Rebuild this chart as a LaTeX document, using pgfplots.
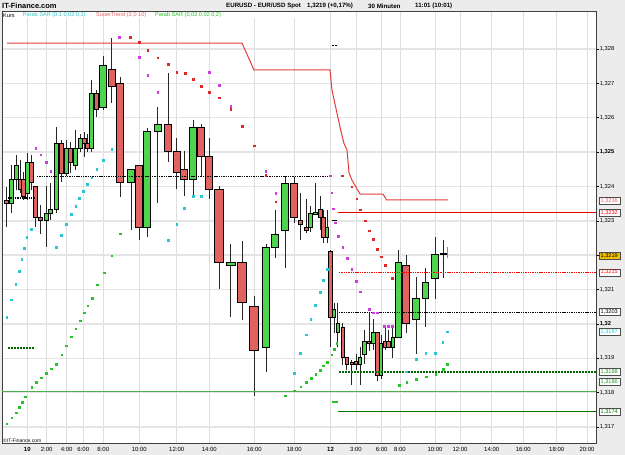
\documentclass[border=0pt]{standalone}
\usepackage{pgfplots}
\pgfplotsset{compat=1.18}
\usepackage{fontspec}
\setmainfont{Liberation Sans}
\definecolor{cgreen}{RGB}{78,212,78}
\definecolor{cred}{RGB}{226,98,98}
\definecolor{sarcyan}{RGB}{40,200,210}
\definecolor{sarmag}{RGB}{205,60,220}
\definecolor{sarred}{RGB}{222,40,40}
\definecolor{sargreen}{RGB}{40,195,40}
\definecolor{stred}{RGB}{226,60,60}
\definecolor{bggray}{RGB}{236,236,236}
\definecolor{gold}{RGB}{240,192,0}
\newcommand{\cdl}[7]{% fill, x, high, body top, body bottom, low, half width
  \pgfmathsetmacro\xl{#2-#7}\pgfmathsetmacro\xr{#2+#7}%
  \addplot[black!85, line width=0.8bp, forget plot] coordinates {(#2,#3) (#2,#6)};
  \edef\doplot{\noexpand\addplot[draw=black, fill=#1, line width=0.7bp, forget plot] coordinates {(\xl,#4) (\xr,#4) (\xr,#5) (\xl,#5)} -- cycle;}\doplot
}
\begin{document}
\begin{tikzpicture}
\useasboundingbox (0,0) rectangle (625bp,455bp);
\fill[bggray] (0,0) rectangle (625bp,455bp);
\begin{axis}[
  at={(2bp,12bp)}, anchor=south west,
  scale only axis, width=594bp, height=431bp,
  xmin=2, xmax=596, ymin=1.316534, ymax=1.329077,
  clip=false,
  axis background/.style={fill=white},
  axis line style={black!75, line width=1bp},
  xtick={46.7,66.7,83.3,103.3,139.3,176.7,209.3,254.3,294.3,356,381.7,400,435,460,491.7,523.3,556.7,587},
  xticklabels={2:00,4:00,6:00,8:00,10:00,12:00,14:00,16:00,18:00,3:00,6:00,8:00,10:00,12:00,14:00,16:00,18:00,20:00},
  extra x ticks={27.3,330.5},
  extra x tick labels={\textbf{10},\textbf{12}},
  extra x tick style={grid=major, major grid style={black!35, line width=1bp}},
  ytick={1.317,1.318,1.319,1.32,1.321,1.322,1.323,1.324,1.325,1.326,1.327,1.328},
  yticklabels={{1,317},{1,318},{1,319},{\bfseries 1,32},{1,321},{},{1,323},{1,324},{\bfseries 1,325},{1,326},{1,327},{1,328}},
  ytick pos=right, yticklabel pos=right,
  tick align=outside,
  x tick style={draw=none},
  y tick style={black, line width=0.6bp},
  major tick length=3bp,
  xmajorgrids, ymajorgrids,
  x grid style={black!13, line width=0.8bp},
  y grid style={black!10, line width=1.4bp},
  xticklabel style={font=\fontsize{6}{7}\selectfont, inner sep=1bp, yshift=-0.5bp},
  yticklabel style={font=\fontsize{5.8}{6.5}\selectfont, inner sep=0.6bp, anchor=west},
]
% candles
\cdl{cred}{6.7}{1.32398}{1.32361}{1.32352}{1.32282}{1.9}
\cdl{cgreen}{11}{1.32462}{1.32422}{1.32352}{1.32323}{1.9}
\cdl{cgreen}{16}{1.32492}{1.32460}{1.32422}{1.32390}{1.9}
\cdl{cred}{20}{1.32477}{1.32422}{1.32393}{1.32381}{1.9}
\cdl{cred}{23.5}{1.32442}{1.32422}{1.32372}{1.32361}{1.9}
\cdl{cgreen}{27.7}{1.32497}{1.32471}{1.32381}{1.32361}{1.9}
\cdl{cred}{31}{1.32492}{1.32471}{1.32413}{1.32390}{1.9}
\cdl{cred}{35.7}{1.32401}{1.32401}{1.32311}{1.32282}{1.9}
\cdl{cred}{40.7}{1.32346}{1.32311}{1.32300}{1.32262}{1.9}
\cdl{cgreen}{46}{1.32401}{1.32323}{1.32300}{1.32224}{1.9}
\cdl{cgreen}{50.7}{1.32410}{1.32332}{1.32323}{1.32302}{1.9}
\cdl{cgreen}{56}{1.32573}{1.32524}{1.32332}{1.32323}{1.9}
\cdl{cred}{61}{1.32535}{1.32524}{1.32439}{1.32413}{1.9}
\cdl{cgreen}{66}{1.32535}{1.32512}{1.32439}{1.32430}{1.9}
\cdl{cred}{70}{1.32529}{1.32512}{1.32471}{1.32439}{1.9}
\cdl{cgreen}{75}{1.32564}{1.32512}{1.32460}{1.32448}{1.9}
\cdl{cgreen}{80}{1.32553}{1.32541}{1.32512}{1.32500}{1.9}
\cdl{cred}{84}{1.32559}{1.32541}{1.32524}{1.32486}{1.9}
\cdl{cred}{87.7}{1.32553}{1.32524}{1.32512}{1.32500}{1.9}
\cdl{cgreen}{91.7}{1.32710}{1.32672}{1.32512}{1.32500}{1.9}
\cdl{cred}{96.7}{1.32681}{1.32672}{1.32623}{1.32602}{1.9}
\cdl{cgreen}{103}{1.32780}{1.32751}{1.32631}{1.32623}{3.3}
\cdl{cred}{111.7}{1.32832}{1.32742}{1.32692}{1.32643}{3.3}
\cdl{cred}{120}{1.32719}{1.32701}{1.32413}{1.32369}{3.5}
\cdl{cgreen}{131}{1.32451}{1.32451}{1.32413}{1.32273}{3.5}
\cdl{cred}{139}{1.32460}{1.32460}{1.32282}{1.32244}{3.5}
\cdl{cgreen}{147}{1.32570}{1.32561}{1.32282}{1.32253}{3.5}
\cdl{cgreen}{157.7}{1.32631}{1.32582}{1.32561}{1.32352}{3.5}
\cdl{cred}{168}{1.32730}{1.32582}{1.32503}{1.32471}{3.5}
\cdl{cred}{176.7}{1.32541}{1.32503}{1.32442}{1.32393}{3.5}
\cdl{cred}{184}{1.32503}{1.32451}{1.32422}{1.32372}{3.5}
\cdl{cgreen}{193}{1.32593}{1.32573}{1.32422}{1.32372}{3.5}
\cdl{cred}{201}{1.32582}{1.32573}{1.32489}{1.32430}{3.5}
\cdl{cred}{209}{1.32541}{1.32489}{1.32393}{1.32364}{3.5}
\cdl{cred}{219}{1.32401}{1.32393}{1.32180}{1.32102}{4.3}
\cdl{cgreen}{230.7}{1.32233}{1.32180}{1.32171}{1.32020}{4.3}
\cdl{cred}{242}{1.32241}{1.32180}{1.32064}{1.32011}{4.3}
\cdl{cred}{254}{1.32081}{1.32052}{1.31924}{1.31790}{4.3}
\cdl{cgreen}{266}{1.32233}{1.32224}{1.31933}{1.31860}{3.8}
\cdl{cgreen}{275}{1.32332}{1.32262}{1.32224}{1.32192}{3.5}
\cdl{cgreen}{285}{1.32428}{1.32410}{1.32273}{1.32163}{3.5}
\cdl{cred}{294}{1.32428}{1.32410}{1.32311}{1.32294}{3.5}
\cdl{cred}{300}{1.32381}{1.32300}{1.32291}{1.32244}{2.1}
\cdl{cred}{306}{1.32364}{1.32282}{1.32273}{1.32265}{2.1}
\cdl{cgreen}{310.7}{1.32343}{1.32323}{1.32282}{1.32267}{2.1}
\cdl{cgreen}{315}{1.32410}{1.32326}{1.32320}{1.32317}{2.1}
\cdl{cred}{320}{1.32372}{1.32332}{1.32311}{1.32273}{2.1}
\cdl{cred}{323.3}{1.32332}{1.32311}{1.32253}{1.32235}{1.8}
\cdl{cgreen}{327}{1.32332}{1.32282}{1.32253}{1.32235}{1.8}
\cdl{cred}{330.5}{1.32215}{1.32212}{1.32020}{1.31933}{1.8}
\cdl{cgreen}{334}{1.32061}{1.32043}{1.32020}{1.31974}{1.8}
\cdl{cgreen}{337.7}{1.32061}{1.32003}{1.31974}{1.31933}{1.8}
\cdl{cred}{342.7}{1.32003}{1.31991}{1.31904}{1.31880}{1.8}
\cdl{cred}{346.7}{1.31904}{1.31904}{1.31883}{1.31866}{1.8}
\cdl{cred}{351.7}{1.31895}{1.31889}{1.31883}{1.31822}{1.8}
\cdl{cred}{356}{1.31912}{1.31892}{1.31883}{1.31866}{1.8}
\cdl{cgreen}{360}{1.31933}{1.31904}{1.31883}{1.31822}{1.8}
\cdl{cgreen}{364.3}{1.31982}{1.31950}{1.31912}{1.31883}{1.8}
\cdl{cred}{369}{1.32032}{1.31950}{1.31944}{1.31921}{1.8}
\cdl{cgreen}{373.3}{1.32014}{1.31974}{1.31944}{1.31924}{1.8}
\cdl{cred}{377.3}{1.31974}{1.31974}{1.31851}{1.31834}{1.8}
\cdl{cgreen}{381}{1.31968}{1.31944}{1.31851}{1.31840}{1.8}
\cdl{cred}{385}{1.31991}{1.31950}{1.31933}{1.31924}{1.8}
\cdl{cred}{388.3}{1.31982}{1.31950}{1.31933}{1.31930}{1.8}
\cdl{cgreen}{392.7}{1.31991}{1.31962}{1.31933}{1.31901}{1.8}
\cdl{cgreen}{398.3}{1.32215}{1.32180}{1.31962}{1.31962}{3.4}
\cdl{cred}{406}{1.32201}{1.32171}{1.32003}{1.31974}{3.4}
\cdl{cgreen}{416}{1.32137}{1.32073}{1.32014}{1.31912}{3.4}
\cdl{cgreen}{425.3}{1.32163}{1.32122}{1.32073}{1.31991}{3.4}
\cdl{cgreen}{435}{1.32253}{1.32203}{1.32134}{1.32073}{3.4}
\cdl{black}{443.3}{1.32244}{1.32204}{1.32202}{1.32134}{3.4}
\addplot[cred, line width=0.9bp, forget plot] coordinates {(447.7,1.32224) (447.7,1.32192)};
% SuperTrend
\addplot[stred, line width=1bp] coordinates {(7,1.32817)(242,1.32817)(254,1.32739)(330,1.32739)(332,1.32680)(335,1.32640)(338,1.32600)(341,1.32560)(344,1.32525)(347,1.32506)(349,1.32440)(352,1.32418)(356,1.32398)(360,1.32378)(383,1.32378)(386.5,1.32361)(448,1.32361)};
% horizontal levels
\addplot[red!90!black, line width=1bp] coordinates {(338,1.32323)(596,1.32323)};
\addplot[red, line width=1.4bp, dash pattern=on 1.4bp off 0.9bp] coordinates {(339,1.32149)(596,1.32149)};
\addplot[black, line width=1.3bp, dash pattern=on 1.4bp off 0.9bp] coordinates {(339,1.32034)(596,1.32034)};
\addplot[black!60!green, line width=1.1bp, dash pattern=on 2bp off 1bp] coordinates {(339,1.31860)(596,1.31860)};
\addplot[green!55!black!70, line width=1.3bp] coordinates {(2,1.31803)(596,1.31803)};
\addplot[green!45!black, line width=1.1bp] coordinates {(338,1.31745)(596,1.31745)};
\addplot[black, line width=1.3bp, dash pattern=on 1.4bp off 0.9bp] coordinates {(37,1.32428)(330,1.32428)};
\addplot[black, line width=1.3bp, dash pattern=on 1.4bp off 0.9bp] coordinates {(8,1.32366)(35,1.32366)};
\addplot[black!60!green, line width=1.1bp, dash pattern=on 2bp off 1bp] coordinates {(8,1.31930)(35,1.31930)};
\addplot[black, line width=0.9bp] coordinates {(331.5,1.32300)(336.5,1.32300)};
\addplot[black, line width=0.9bp, dash pattern=on 2bp off 1bp] coordinates {(332,1.32809)(338,1.32809)};
% Parabolic SAR (0,1 0,02 0,1)
\addplot[only marks, mark=square*, mark size=0.8bp, color=sarcyan] coordinates {(6.7,1.32020)(11,1.32070)(15.7,1.32116)(19,1.32154)(21.7,1.32189)(24.3,1.32221)(26.7,1.32253)(31,1.32276)(56,1.32224)(61,1.32259)(66,1.32291)(71,1.32320)(75.7,1.32343)(79.3,1.32366)(83.3,1.32387)(87.3,1.32407)(91.7,1.32425)(96.7,1.32451)(103,1.32477)(111.7,1.32509)(168.3,1.32244)(176.7,1.32291)(184.3,1.32337)(193.3,1.32372)(201,1.32372)(294,1.31857)(300,1.31915)(306,1.31968)(310.7,1.32014)(315,1.32055)(320,1.32093)(323,1.32128)(327.3,1.32160)(406,1.31861)(416,1.31897)(425.5,1.31915)(435,1.31915)(442.7,1.31946)(447,1.31977)};
\addplot[only marks, mark=square*, mark size=0.8bp, color=sarmag] coordinates {(35.7,1.32512)(40.7,1.32492)(46,1.32471)(50.7,1.32445)(119.3,1.32835)(139,1.32777)(147.5,1.32724)(157.7,1.32675)(209,1.32733)(219.3,1.32695)(230.7,1.32634)(265.7,1.32445)(275.7,1.32381)(330,1.32431)(331.7,1.32382)(333.3,1.32335)(335,1.32295)(338.3,1.32256)(342.7,1.32223)(347.3,1.32191)(351.7,1.32159)(356,1.32125)(360,1.32094)(369,1.32043)(373.3,1.32033)(377.3,1.32033)(384,1.31994)(388.3,1.31994)(392.3,1.31994)};
% Parabolic SAR (0,02 0,02 0,2)
\addplot[only marks, mark=square*, mark size=0.8bp, color=sarred] coordinates {(130,1.32834)(139,1.32820)(147.7,1.32797)(157.7,1.32775)(168.3,1.32755)(176.7,1.32732)(185,1.32730)(193.3,1.32712)(201,1.32692)(209,1.32674)(219.3,1.32658)(230.7,1.32625)(242.3,1.32576)(254,1.32519)(265.7,1.32433)(275.7,1.32356)(342.3,1.32431)(351.7,1.32399)(356.7,1.32364)(360,1.32332)(365,1.32300)(369.3,1.32271)(373.3,1.32246)(377.3,1.32218)(381,1.32196)(385,1.32171)(392.3,1.32133)};
\addplot[only marks, mark=square*, mark size=0.8bp, color=sargreen] coordinates {(6.7,1.31709)(11.7,1.31727)(16,1.31742)(19.3,1.31757)(22.3,1.31772)(25,1.31788)(31.7,1.31816)(36,1.31830)(41,1.31844)(46,1.31856)(51,1.31870)(56,1.31883)(61.7,1.31910)(66,1.31936)(71,1.31963)(75.7,1.31986)(80,1.32009)(84,1.32033)(87.7,1.32053)(92,1.32075)(97.3,1.32114)(104,1.32149)(111.7,1.32199)(120,1.32262)(285,1.31791)(294,1.31806)(300.7,1.31817)(306,1.31830)(311,1.31842)(315.7,1.31853)(320,1.31866)(323.3,1.31878)(327.3,1.31888)(331.7,1.31910)(334,1.31926)(336.7,1.31944)(333,1.31774)(336,1.31774)(399,1.31822)(406.7,1.31830)(416,1.31839)(426,1.31846)(435.7,1.31853)(443.3,1.31869)(447.3,1.31883)};
% anchors for value boxes
\coordinate (b1) at (axis cs:596,1.32359);
\coordinate (b2) at (axis cs:596,1.32323);
\coordinate (b3) at (axis cs:596,1.32199);
\coordinate (b4) at (axis cs:596,1.32150);
\coordinate (b5) at (axis cs:596,1.32036);
\coordinate (b6) at (axis cs:596,1.31977);
\coordinate (b7) at (axis cs:596,1.31861);
\coordinate (b8) at (axis cs:596,1.31832);
\coordinate (b9) at (axis cs:596,1.31745);
\end{axis}
% legend band
\fill[white] (3bp,437bp) rectangle (295bp,442.5bp);
\node[anchor=west, inner sep=0pt, font=\fontsize{5.6}{6}\selectfont] at (3bp,439.7bp) {Kurs};
\node[anchor=west, inner sep=0pt, font=\fontsize{5.6}{6}\selectfont, text=sarcyan] at (22.7bp,439.7bp) {Parab SAR (0,1 0,02 0,1)};
\node[anchor=west, inner sep=0pt, font=\fontsize{5.6}{6}\selectfont, text=stred!80] at (96bp,439.7bp) {SuperTrend (2,0 10)};
\node[anchor=west, inner sep=0pt, font=\fontsize{5.6}{6}\selectfont, text=sargreen] at (155bp,439.7bp) {Parab SAR (0,02 0,02 0,2)};
% title
\node[anchor=west, inner sep=0pt, font=\fontsize{7.5}{8}\selectfont\bfseries] at (2bp,449bp) {IT-Finance.com};
\node[anchor=west, inner sep=0pt, font=\fontsize{6.2}{8}\selectfont\bfseries] at (226bp,449bp) {EURUSD - EUR/USD Spot};
\node[anchor=west, inner sep=0pt, font=\fontsize{6.2}{8}\selectfont\bfseries] at (307bp,449bp) {1,3219 (+0,17\%)};
\node[anchor=west, inner sep=0pt, font=\fontsize{6.2}{8}\selectfont\bfseries] at (368bp,449bp) {30 Minuten};
\node[anchor=west, inner sep=0pt, font=\fontsize{6.2}{8}\selectfont\bfseries] at (415bp,449bp) {11:01 (10:01)};
\node[anchor=west, inner sep=0pt, font=\fontsize{5}{6}\selectfont] at (3bp,14.5bp) {©IT-Finance.com};
% value boxes
\tikzset{vbox/.style={anchor=west, draw=black!70, fill=white, line width=0.5bp, inner sep=0.7bp, minimum width=21bp, minimum height=7bp, font=\fontsize{5.6}{6}\selectfont}}
\node[vbox, text=cred] at ([xshift=2.5bp]b1) {1,3236};
\node[vbox, text=red] at ([xshift=2.5bp]b2) {1,3232};
\node[vbox, fill=gold, text=black] at ([xshift=2.5bp]b3) {1,3219};
\node[vbox, text=red] at ([xshift=2.5bp]b4) {1,3215};
\node[vbox, text=black] at ([xshift=2.5bp]b5) {1,3203};
\node[vbox, text=sarcyan] at ([xshift=2.5bp]b6) {1,3197};
\node[vbox, text=sargreen!80!black] at ([xshift=2.5bp]b7) {1,3188};
\node[vbox, text=sargreen!80!black] at ([xshift=2.5bp]b8) {1,3186};
\node[vbox, text=green!45!black] at ([xshift=2.5bp]b9) {1,3174};
\end{tikzpicture}
\end{document}
